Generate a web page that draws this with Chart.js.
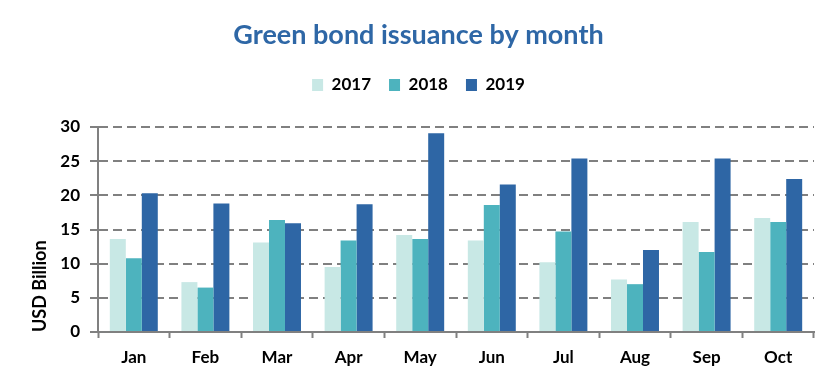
<!DOCTYPE html>
<html>
<head>
<meta charset="utf-8">
<script src="https://cdn.jsdelivr.net/npm/chart.js@4"></script>
<style>
  html, body { margin: 0; padding: 0; background: #ffffff; }
  #wrap { width: 837px; height: 384px; position: relative; }
</style>
</head>
<body>
<div id="wrap"><canvas id="c"></canvas></div>
<script>
const months = ["Jan", "Feb", "Mar", "Apr", "May", "Jun", "Jul", "Aug", "Sep", "Oct"];
const seriesNames = ["2017", "2018", "2019"];
const values2017 = [13.6, 7.3, 13.1, 9.5, 14.2, 13.4, 10.2, 7.7, 16.1, 16.7];
const values2018 = [10.8, 6.5, 16.4, 13.4, 13.6, 18.6, 14.7, 7.0, 11.7, 16.1];
const values2019 = [20.3, 18.8, 15.9, 18.7, 29.1, 21.6, 25.4, 12.0, 25.4, 22.4];
const yTicks = [0, 5, 10, 15, 20, 25, 30];

const FONT = "Lato, 'Open Sans', sans-serif";
const GRID = "#808080";

const legendHeight = {
  id: "legendHeight",
  beforeInit(chart) {
    const origFit = chart.legend.fit;
    chart.legend.fit = function () {
      origFit.call(this);
      this.height = 68.6;
    };
  }
};

new Chart(document.getElementById("c"), {
  type: "bar",
  data: {
    labels: months,
    datasets: [
      { label: seriesNames[0], data: values2017, backgroundColor: "#C8E8E5" },
      { label: seriesNames[1], data: values2018, backgroundColor: "#4DB3BE" },
      { label: seriesNames[2], data: values2019, backgroundColor: "#2E66A5" }
    ]
  },
  plugins: [legendHeight],
  options: {
    responsive: true,
    maintainAspectRatio: false,
    animation: false,
    devicePixelRatio: 1,
    layout: { padding: { left: 0, right: 0, top: 0, bottom: 6 } },
    datasets: { bar: { categoryPercentage: 0.67, barPercentage: 1.0 } },
    plugins: {
      title: {
        display: true,
        text: "Green bond issuance by month",
        color: "#2E67A6",
        font: { family: FONT, size: 27, weight: "bold" },
        padding: { top: 19, bottom: 7 }
      },
      legend: {
        display: true,
        position: "top",
        labels: {
          color: "#000000",
          font: { family: FONT, size: 17, weight: "bold" },
          boxWidth: 11,
          boxHeight: 12,
          padding: 18
        }
      },
      tooltip: { enabled: false }
    },
    scales: {
      x: {
        grid: {
          display: true,
          drawOnChartArea: false,
          drawTicks: true,
          tickLength: 6,
          tickColor: GRID,
          tickWidth: 2,
          offset: true
        },
        border: { display: true, color: GRID, width: 2 },
        ticks: {
          color: "#000000",
          font: { family: FONT, size: 17, weight: "bold" },
          padding: 9
        },
        afterFit(scale) { scale.height = 46; }
      },
      y: {
        min: 0,
        max: 30,
        afterBuildTicks(scale) { scale.ticks = yTicks.map(v => ({ value: v })); },
        grid: {
          display: true,
          color: GRID,
          lineWidth: 2,
          drawTicks: true,
          tickLength: 8,
          tickColor: GRID,
          tickWidth: 2,
          tickBorderDash: []
        },
        border: { display: true, color: GRID, width: 2, dash: [9, 5] },
        ticks: {
          color: "#000000",
          font: { family: FONT, size: 17, weight: "bold" },
          padding: 10
        },
        title: {
          display: true,
          text: "USD Billion",
          color: "#000000",
          align: "start",
          font: { family: FONT, size: 18, weight: "bold" },
          padding: { top: 29, bottom: 0 }
        },
        afterFit(scale) { scale.width = 98; }
      },
      yRight: {
        type: "linear",
        position: "right",
        display: true,
        min: 0,
        max: 30,
        grid: { display: false, drawOnChartArea: false, drawTicks: false },
        border: { display: false },
        ticks: { display: false },
        afterFit(scale) { scale.width = 23; }
      }
    }
  }
});
</script>
</body>
</html>
